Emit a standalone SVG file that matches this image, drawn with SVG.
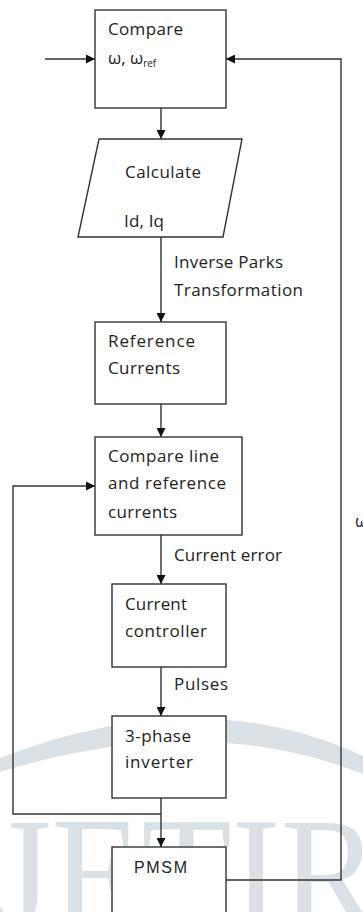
<svg xmlns="http://www.w3.org/2000/svg" width="363" height="912" viewBox="0 0 363 912">
<style>
.box{fill:#fff;stroke:#333;stroke-width:1.4}
.t{font-family:"Open Sans","DejaVu Sans",sans-serif;font-size:17px;fill:#222}
.c{fill:none;stroke:#333;stroke-width:1.4}
.wm{fill:#d9e1e7}
</style>
<defs>
<marker id="ah" viewBox="0 0 10 10" refX="10" refY="5" markerWidth="9" markerHeight="9" markerUnits="userSpaceOnUse" orient="auto">
<path d="M0,0 L10,5 L0,10 Z" fill="#111"/>
</marker>
</defs>
<rect width="363" height="912" fill="#fff"/>
<g id="watermark">
<path class="wm" d="M0,758 Q200,680 363,756 L363,774 Q200,710 0,772 Z"/>
<text x="-6" y="928" font-family="Liberation Serif,serif" font-size="160" fill="#d9e1e7" textLength="385" lengthAdjust="spacingAndGlyphs">JETIR</text>
</g>
<g id="connectors">
<path class="c" d="M45,59 H95" marker-end="url(#ah)"/>
<path class="c" d="M161,108 V139" marker-end="url(#ah)"/>
<path class="c" d="M161,237 V322" marker-end="url(#ah)"/>
<path class="c" d="M161,404 V437" marker-end="url(#ah)"/>
<path class="c" d="M161,535 V584" marker-end="url(#ah)"/>
<path class="c" d="M161,667 V716" marker-end="url(#ah)"/>
<path class="c" d="M161,798 V847" marker-end="url(#ah)"/>
<path class="c" d="M161,814 H13 V486 H95" marker-end="url(#ah)"/>
<path class="c" d="M226,880 H341 V59 H226" marker-end="url(#ah)"/>
<text class="t" x="174" y="268" textLength="109" lengthAdjust="spacing">Inverse Parks</text>
<text class="t" x="174" y="296" textLength="129" lengthAdjust="spacing">Transformation</text>
<text class="t" x="174" y="561" textLength="108" lengthAdjust="spacing">Current error</text>
<text class="t" x="174" y="690" textLength="54" lengthAdjust="spacing">Pulses</text>
<text class="t" x="355" y="527">ω</text>
</g>
<g id="compare">
<rect class="box" x="95" y="10" width="131" height="98"/>
<text class="t" x="108" y="35" textLength="75" lengthAdjust="spacing">Compare</text>
<text class="t" x="108" y="64">ω, ω<tspan font-size="10" dy="3">ref</tspan></text>
</g>
<g id="calculate">
<polygon class="box" points="99,139 242,139 223,237 78,237"/>
<text class="t" x="125" y="178" textLength="76" lengthAdjust="spacing">Calculate</text>
<text class="t" x="124" y="227" textLength="40" lengthAdjust="spacing">Id, Iq</text>
</g>
<g id="reference">
<rect class="box" x="95" y="322" width="131" height="82"/>
<text class="t" x="108" y="347" textLength="87" lengthAdjust="spacing">Reference</text>
<text class="t" x="108" y="374" textLength="72" lengthAdjust="spacing">Currents</text>
</g>
<g id="compare-line">
<rect class="box" x="95" y="437" width="147" height="98"/>
<text class="t" x="108" y="462" textLength="111" lengthAdjust="spacing">Compare line</text>
<text class="t" x="108" y="489" textLength="118" lengthAdjust="spacing">and reference</text>
<text class="t" x="108" y="518" textLength="69" lengthAdjust="spacing">currents</text>
</g>
<g id="controller">
<rect class="box" x="112" y="584" width="114" height="83"/>
<text class="t" x="125" y="610" textLength="62" lengthAdjust="spacing">Current</text>
<text class="t" x="125" y="637" textLength="82" lengthAdjust="spacing">controller</text>
</g>
<g id="inverter">
<rect class="box" x="112" y="716" width="114" height="82"/>
<text class="t" x="125" y="742" textLength="66" lengthAdjust="spacing">3-phase</text>
<text class="t" x="125" y="768" textLength="68" lengthAdjust="spacing">inverter</text>
</g>
<g id="pmsm">
<rect class="box" x="112" y="847" width="114" height="80"/>
<text x="134" y="873" font-family="Liberation Sans,Arial,sans-serif" font-size="16" fill="#222" textLength="53" lengthAdjust="spacing">PMSM</text>
</g>
</svg>
